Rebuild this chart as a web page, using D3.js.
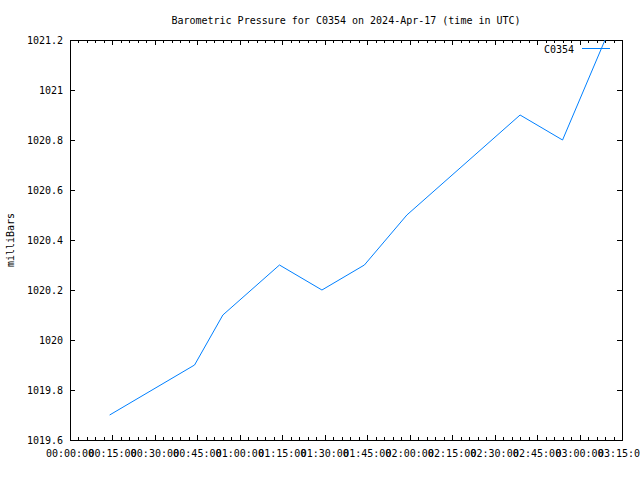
<!DOCTYPE html>
<html><head><meta charset="utf-8">
<script src="https://cdn.jsdelivr.net/npm/d3@7"></script>
<style>body{margin:0;background:#fff}svg{display:block}text{font-family:"DejaVu Sans Mono",monospace;font-size:10px;fill:#000}</style>
</head><body><svg id="c" width="640" height="480"></svg>
<script>
const times = ["00:14","00:44","00:54","01:14","01:29","01:44","01:59","02:39","02:54","03:09"];
const pressure = [1019.7,1019.9,1020.1,1020.3,1020.2,1020.3,1020.5,1020.9,1020.8,1021.2];
const xTickLabels = ["00:00:00","00:15:00","00:30:00","00:45:00","01:00:00","01:15:00","01:30:00","01:45:00","02:00:00","02:15:00","02:30:00","02:45:00","03:00:00","03:15:00"];
const yTicks = [1019.6,1019.8,1020,1020.2,1020.4,1020.6,1020.8,1021,1021.2];
const title = "Barometric Pressure for C0354 on 2024-Apr-17 (time in UTC)";
const yLabel = "milliBars";
const seriesName = "C0354";

const toMin = s => { const p = s.split(":").map(Number); return p[0]*60 + p[1] + (p[2]||0)/60; };
const L=70, R=622, T=40, B=440;
const svg = d3.select("#c");
const x = d3.scaleLinear().domain([0,195]).range([L,R]);
const y = d3.scaleLinear().domain([1019.6,1021.2]).range([B,T]);
const color = "#0080ff";

const majors = xTickLabels.map(toMin);
const minors = d3.range(0,196,3).filter(m => m%15!==0);

const g = svg.append("g").attr("shape-rendering","crispEdges").attr("stroke","#000").attr("stroke-width",1);
majors.forEach(m=>{ const xx=Math.round(x(m))+0.5;
  g.append("line").attr("x1",xx).attr("x2",xx).attr("y1",B).attr("y2",B-5);
  g.append("line").attr("x1",xx).attr("x2",xx).attr("y1",T).attr("y2",T+5);});
minors.forEach(m=>{ const xx=Math.round(x(m))+0.5;
  g.append("line").attr("x1",xx).attr("x2",xx).attr("y1",B).attr("y2",B-3);
  g.append("line").attr("x1",xx).attr("x2",xx).attr("y1",T).attr("y2",T+3);});
yTicks.forEach(v=>{ const yy=Math.round(y(v))+0.5;
  g.append("line").attr("x1",L).attr("x2",L+5).attr("y1",yy).attr("y2",yy);
  g.append("line").attr("x1",R).attr("x2",R-5).attr("y1",yy).attr("y2",yy);});
g.append("rect").attr("x",L+0.5).attr("y",T+0.5).attr("width",R-L).attr("height",B-T).attr("fill","none");

svg.append("g").selectAll("text").data(xTickLabels).join("text")
  .attr("x",d=>x(toMin(d))).attr("y",B+17).attr("text-anchor","middle").text(d=>d);
svg.append("g").selectAll("text").data(yTicks).join("text")
  .attr("x",L-7).attr("y",d=>y(d)+3.5).attr("text-anchor","end").text(d=>d3.format("")(+d.toFixed(1)));

svg.append("text").attr("x",(L+R)/2).attr("y",24).attr("text-anchor","middle").text(title);
svg.append("text").attr("transform",`translate(14,${(T+B)/2}) rotate(-90)`).attr("text-anchor","middle").text(yLabel);

svg.append("defs").append("clipPath").attr("id","clip").append("rect").attr("x",L).attr("y",T).attr("width",R-L).attr("height",B-T);
svg.append("path").datum(times.map((t,i)=>[toMin(t),pressure[i]]))
  .attr("clip-path","url(#clip)")
  .attr("fill","none").attr("stroke",color).attr("stroke-width",1)
  .attr("d", d3.line().x(d=>x(d[0])).y(d=>y(d[1])));

svg.append("text").attr("x",574).attr("y",53).attr("text-anchor","end").text(seriesName);
svg.append("line").attr("x1",582).attr("x2",610).attr("y1",48.5).attr("y2",48.5).attr("stroke",color).attr("shape-rendering","crispEdges");
</script></body></html>
